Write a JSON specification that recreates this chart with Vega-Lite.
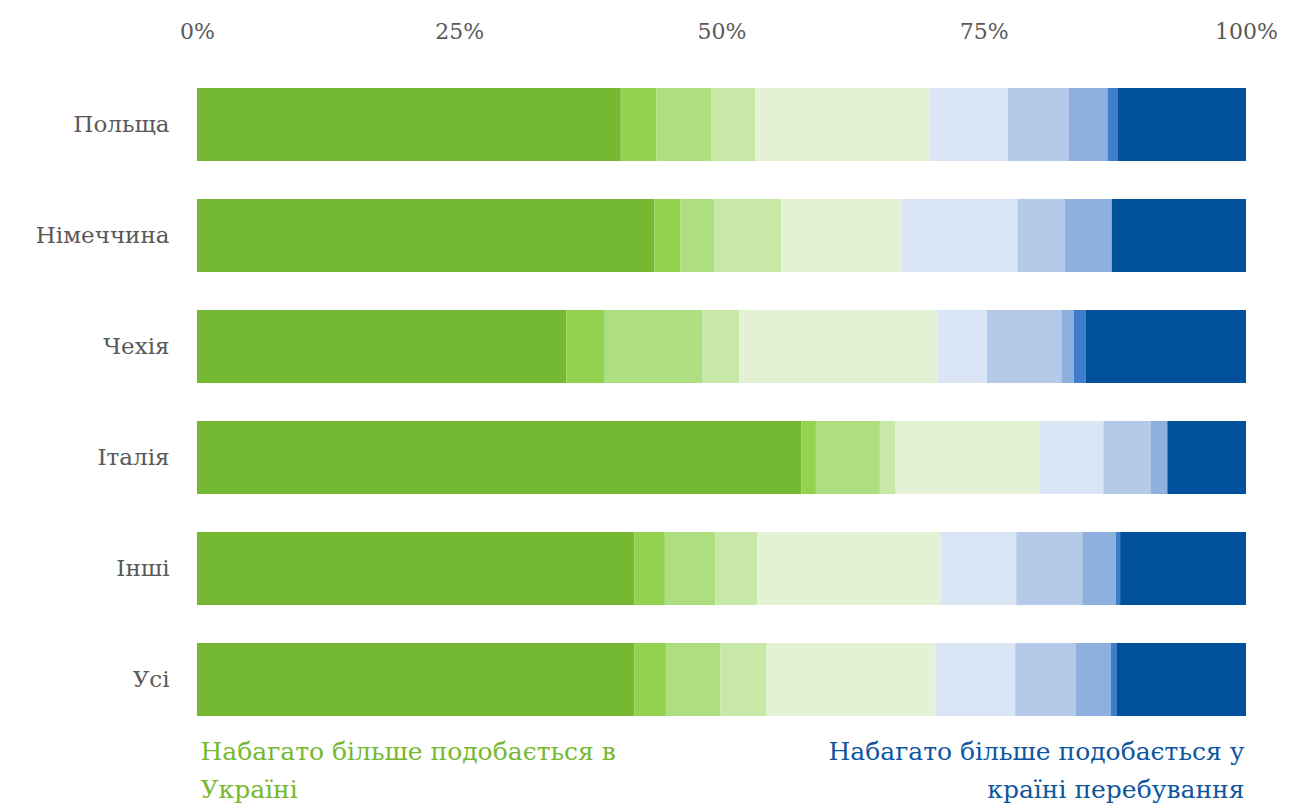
{
  "$schema": "https://vega.github.io/schema/vega-lite/v6.json",
  "autosize": "none",
  "width": 1049,
  "height": 666,
  "padding": {"left": 197, "top": 69, "right": 49, "bottom": 72},
  "background": "white",
  "config": {"view": {"stroke": null}, "font": "DejaVu Serif"},
  "data": {"values": [
    {"c": "Польща", "k": 1, "v": 40.4}, {"c": "Польща", "k": 2, "v": 3.4}, {"c": "Польща", "k": 3, "v": 5.2}, {"c": "Польща", "k": 4, "v": 4.2}, {"c": "Польща", "k": 5, "v": 16.7}, {"c": "Польща", "k": 6, "v": 7.4}, {"c": "Польща", "k": 7, "v": 5.8}, {"c": "Польща", "k": 8, "v": 3.7}, {"c": "Польща", "k": 9, "v": 1.0}, {"c": "Польща", "k": 10, "v": 12.2},
    {"c": "Німеччина", "k": 1, "v": 43.6}, {"c": "Німеччина", "k": 2, "v": 2.5}, {"c": "Німеччина", "k": 3, "v": 3.2}, {"c": "Німеччина", "k": 4, "v": 6.4}, {"c": "Німеччина", "k": 5, "v": 11.5}, {"c": "Німеччина", "k": 6, "v": 11.0}, {"c": "Німеччина", "k": 7, "v": 4.5}, {"c": "Німеччина", "k": 8, "v": 4.5}, {"c": "Німеччина", "k": 9, "v": 0.0}, {"c": "Німеччина", "k": 10, "v": 12.8},
    {"c": "Чехія", "k": 1, "v": 35.2}, {"c": "Чехія", "k": 2, "v": 3.6}, {"c": "Чехія", "k": 3, "v": 9.4}, {"c": "Чехія", "k": 4, "v": 3.5}, {"c": "Чехія", "k": 5, "v": 18.9}, {"c": "Чехія", "k": 6, "v": 4.7}, {"c": "Чехія", "k": 7, "v": 7.1}, {"c": "Чехія", "k": 8, "v": 1.2}, {"c": "Чехія", "k": 9, "v": 1.1}, {"c": "Чехія", "k": 10, "v": 15.3},
    {"c": "Італія", "k": 1, "v": 57.6}, {"c": "Італія", "k": 2, "v": 1.4}, {"c": "Італія", "k": 3, "v": 6.1}, {"c": "Італія", "k": 4, "v": 1.5}, {"c": "Італія", "k": 5, "v": 13.7}, {"c": "Італія", "k": 6, "v": 6.1}, {"c": "Італія", "k": 7, "v": 4.5}, {"c": "Італія", "k": 8, "v": 1.6}, {"c": "Італія", "k": 9, "v": 0.0}, {"c": "Італія", "k": 10, "v": 7.5},
    {"c": "Інші", "k": 1, "v": 41.7}, {"c": "Інші", "k": 2, "v": 2.9}, {"c": "Інші", "k": 3, "v": 4.8}, {"c": "Інші", "k": 4, "v": 4.0}, {"c": "Інші", "k": 5, "v": 17.5}, {"c": "Інші", "k": 6, "v": 7.2}, {"c": "Інші", "k": 7, "v": 6.3}, {"c": "Інші", "k": 8, "v": 3.2}, {"c": "Інші", "k": 9, "v": 0.4}, {"c": "Інші", "k": 10, "v": 12.0},
    {"c": "Усі", "k": 1, "v": 41.7}, {"c": "Усі", "k": 2, "v": 3.0}, {"c": "Усі", "k": 3, "v": 5.2}, {"c": "Усі", "k": 4, "v": 4.4}, {"c": "Усі", "k": 5, "v": 16.1}, {"c": "Усі", "k": 6, "v": 7.6}, {"c": "Усі", "k": 7, "v": 5.8}, {"c": "Усі", "k": 8, "v": 3.3}, {"c": "Усі", "k": 9, "v": 0.6}, {"c": "Усі", "k": 10, "v": 12.3}
  ]},
  "encoding": {
    "y": {"field": "c", "type": "nominal", "sort": null,
      "scale": {"paddingInner": 0.342, "paddingOuter": 0.171},
      "axis": {"title": null, "domain": false, "ticks": false, "labelPadding": 28, "labelFontSize": 23, "labelColor": "#595959", "labelFont": "DejaVu Serif"}},
    "color": {"field": "k", "type": "ordinal", "legend": null,
      "scale": {"domain": [1,2,3,4,5,6,7,8,9,10], "range": ["#75B831", "#93D24F", "#ADDE80", "#C8E8A8", "#E3F2D4", "#DAE5F5", "#B5CAE9", "#8DB0DE", "#3F7DCB", "#00509B"]}},
    "order": {"field": "k", "type": "quantitative"}
  },
  "layer": [
    {
      "mark": {"type": "bar"},
      "encoding": {
        "x": {"field": "v", "type": "quantitative", "stack": "zero",
          "scale": {"domain": [0, 100], "nice": false},
          "axis": {"orient": "top", "title": null, "values": [0, 25, 50, 75, 100], "labelExpr": "datum.value + '%'", "domain": false, "ticks": false, "grid": false, "labelPadding": 26, "labelFontSize": 22, "labelColor": "#595959", "labelFont": "DejaVu Serif", "labelFlush": false}}
      }
    },
    {
      "mark": {"type": "bar", "opacity": 0},
      "encoding": {
        "x": {"field": "v", "type": "quantitative", "stack": "zero",
          "scale": {"domain": [0, 100], "nice": false},
          "axis": {"orient": "bottom", "title": ["Набагато більше подобається в", "Україні"], "labels": false, "domain": false, "ticks": false, "grid": false,
            "titleAnchor": "start", "titleAlign": "left", "titleBaseline": "top", "titlePadding": 4, "titleFontSize": 25, "titleFontWeight": "normal", "titleColor": "#76B82F", "titleFont": "DejaVu Serif", "titleLineHeight": 38, "titleX": 3}}
      }
    },
    {
      "mark": {"type": "bar", "opacity": 0},
      "encoding": {
        "x": {"field": "v", "type": "quantitative", "stack": "zero",
          "scale": {"domain": [0, 100], "nice": false},
          "axis": {"orient": "bottom", "title": ["Набагато більше подобається у", "країні перебування"], "labels": false, "domain": false, "ticks": false, "grid": false,
            "titleAnchor": "end", "titleAlign": "right", "titleBaseline": "top", "titlePadding": 4, "titleFontSize": 25, "titleFontWeight": "normal", "titleColor": "#0E56A0", "titleFont": "DejaVu Serif", "titleLineHeight": 38, "titleX": 1047}}
      }
    }
  ],
  "resolve": {"axis": {"x": "independent"}}
}
